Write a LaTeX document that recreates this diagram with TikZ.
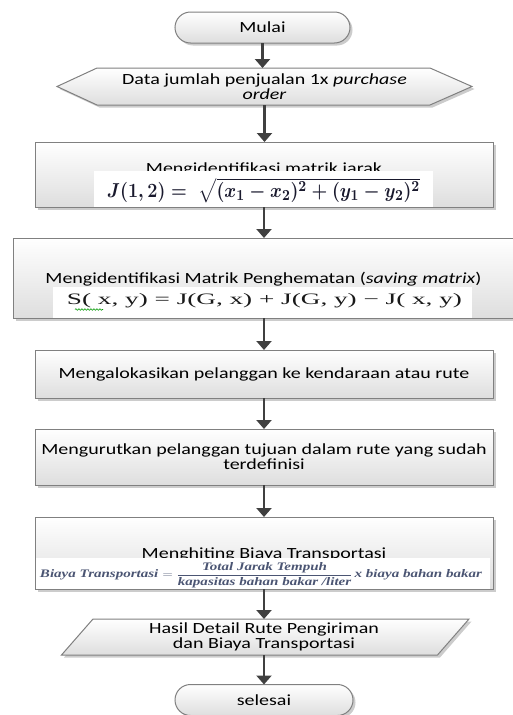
\documentclass[tikz,border=0pt]{standalone}
\usepackage[no-math]{fontspec}
\usepackage{amsmath}
\usepackage{graphicx}
\setmainfont{Carlito}[FakeStretch=1.29]
\newfontfamily\serifff{Liberation Serif}
\newcommand\fbi[1]{{\serifff\bfseries\itshape #1}}
\usetikzlibrary{arrows.meta,shadows,shapes.misc,decorations.pathmorphing}
\definecolor{fonecol}{RGB}{25,25,45}
\definecolor{fthreecol}{RGB}{75,85,115}
\begin{document}
\begin{tikzpicture}[x=1pt,y=-1pt,
  font=\fontsize{15.5}{15}\selectfont,
  shade/.style={draw=black!50, line width=1pt, top color=white, bottom color=black!13,
    drop shadow={shadow xshift=2.5pt,shadow yshift=-2.5pt,fill=black!40,opacity=0.5}},
  box/.style={shade, rectangle, inner sep=0pt, outer sep=0pt},
  term/.style={shade, rounded rectangle, inner sep=0pt, outer sep=0pt, minimum height=31pt},
  holder/.style={inner sep=0pt, outer sep=0pt, align=center},
  arr/.style={draw=black!75, line width=2.2pt, -{Triangle[width=15pt,length=9pt]}},
  strip/.style={fill=white, draw=none},
]
\useasboundingbox (0,0) rectangle (513,715);

% start
\node[term, minimum width=175pt] (mulai) at (262.5,27.5) {Mulai};

% preparation (hexagon)
\path[shade] (57,86.5) -- (97,68) -- (430,68) -- (472,86.5) -- (430,105) -- (97,105) -- cycle;
\node[holder, minimum width=415pt, minimum height=37pt] (hex) at (264.5,86.5)
  {Data jumlah penjualan 1x \textit{purchase}\\\textit{order}};

% box 1
\node[box, minimum width=458pt, minimum height=65pt] (b1) at (264,174.5) {};
\node[anchor=base, inner sep=0pt] (b1t) at (264,173.5) {Mengidentifikasi matrik jarak};
\fill[strip] (94,171) rectangle (433,206.5);
\node[inner sep=0pt, text=fonecol] (f1) at (263.5,190.5)
  {\resizebox*{313pt}{25pt}{\boldmath$J(1,2) =\ \sqrt{(x_1-x_2)^2+(y_1-y_2)^2}$}};

% box 2
\node[box, minimum width=501pt, minimum height=80pt] (b2) at (263.5,278) {};
\node[anchor=base, inner sep=0pt] (b2t) at (263.5,283)
  {Mengidentifikasi Matrik Penghematan (\textit{saving matrix})};
\fill[strip] (53,287) rectangle (472,317.5);
\node[inner sep=0pt, text=black!90] (f2) at (264.5,301)
  {\resizebox*{395pt}{14.5pt}{\serifff S( x, y) = J(G, x) + J(G, y) − J( x, y)}};
\draw[green!60!black, line width=0.6pt, decorate,
  decoration={snake, amplitude=0.8pt, segment length=3pt}] (75,309.5) -- (103,309.5);

% box 3
\node[box, minimum width=458pt, minimum height=48pt] (b3) at (264,374)
  {Mengalokasikan pelanggan ke kendaraan atau rute};

% box 4
\node[box, minimum width=458pt, minimum height=56pt, align=center] (b4) at (264,457)
  {Mengurutkan pelanggan tujuan dalam rute yang sudah\\terdefinisi};

% box 5
\node[box, minimum width=458pt, minimum height=72pt] (b5) at (264,553) {};
\node[anchor=base, inner sep=0pt] (b5t) at (264,558) {Menghiting Biaya Transportasi};
\fill[strip] (36,558) rectangle (490,588.5);
\node[inner sep=0pt, text=fthreecol] (f3) at (261,575)
  {\resizebox*{442pt}{25pt}{$\text{\fbi{Biaya Transportasi}} = \dfrac{\text{\fbi{Total Jarak Tempuh}}}{\text{\fbi{kapasitas bahan bakar /liter}}}\,\text{\fbi{x biaya bahan bakar}}$}};

% output (parallelogram)
\path[shade] (93,619) -- (469,619) -- (437.5,655) -- (61.5,655) -- cycle;
\node[holder, minimum width=340pt, minimum height=36pt] (out) at (264,637)
  {Hasil Detail Rute Pengiriman\\dan Biaya Transportasi};

% end
\node[term, minimum width=178pt] (selesai) at (264,700) {selesai};

% connectors
\draw[arr] (mulai.south) -- (mulai.south |- hex.north);
\draw[arr] (hex.south) -- (hex.south |- b1.north);
\draw[arr] (b1.south) -- (b1.south |- b2.north);
\draw[arr] (b1.south |- b2.south) -- (b1.south |- b3.north);
\draw[arr] (b3.south) -- (b4.north);
\draw[arr] (b4.south) -- (b5.north);
\draw[arr] (b5.south) -- (b5.south |- out.north);
\draw[arr] (out.south) -- (selesai.north);
\end{tikzpicture}
\end{document}
